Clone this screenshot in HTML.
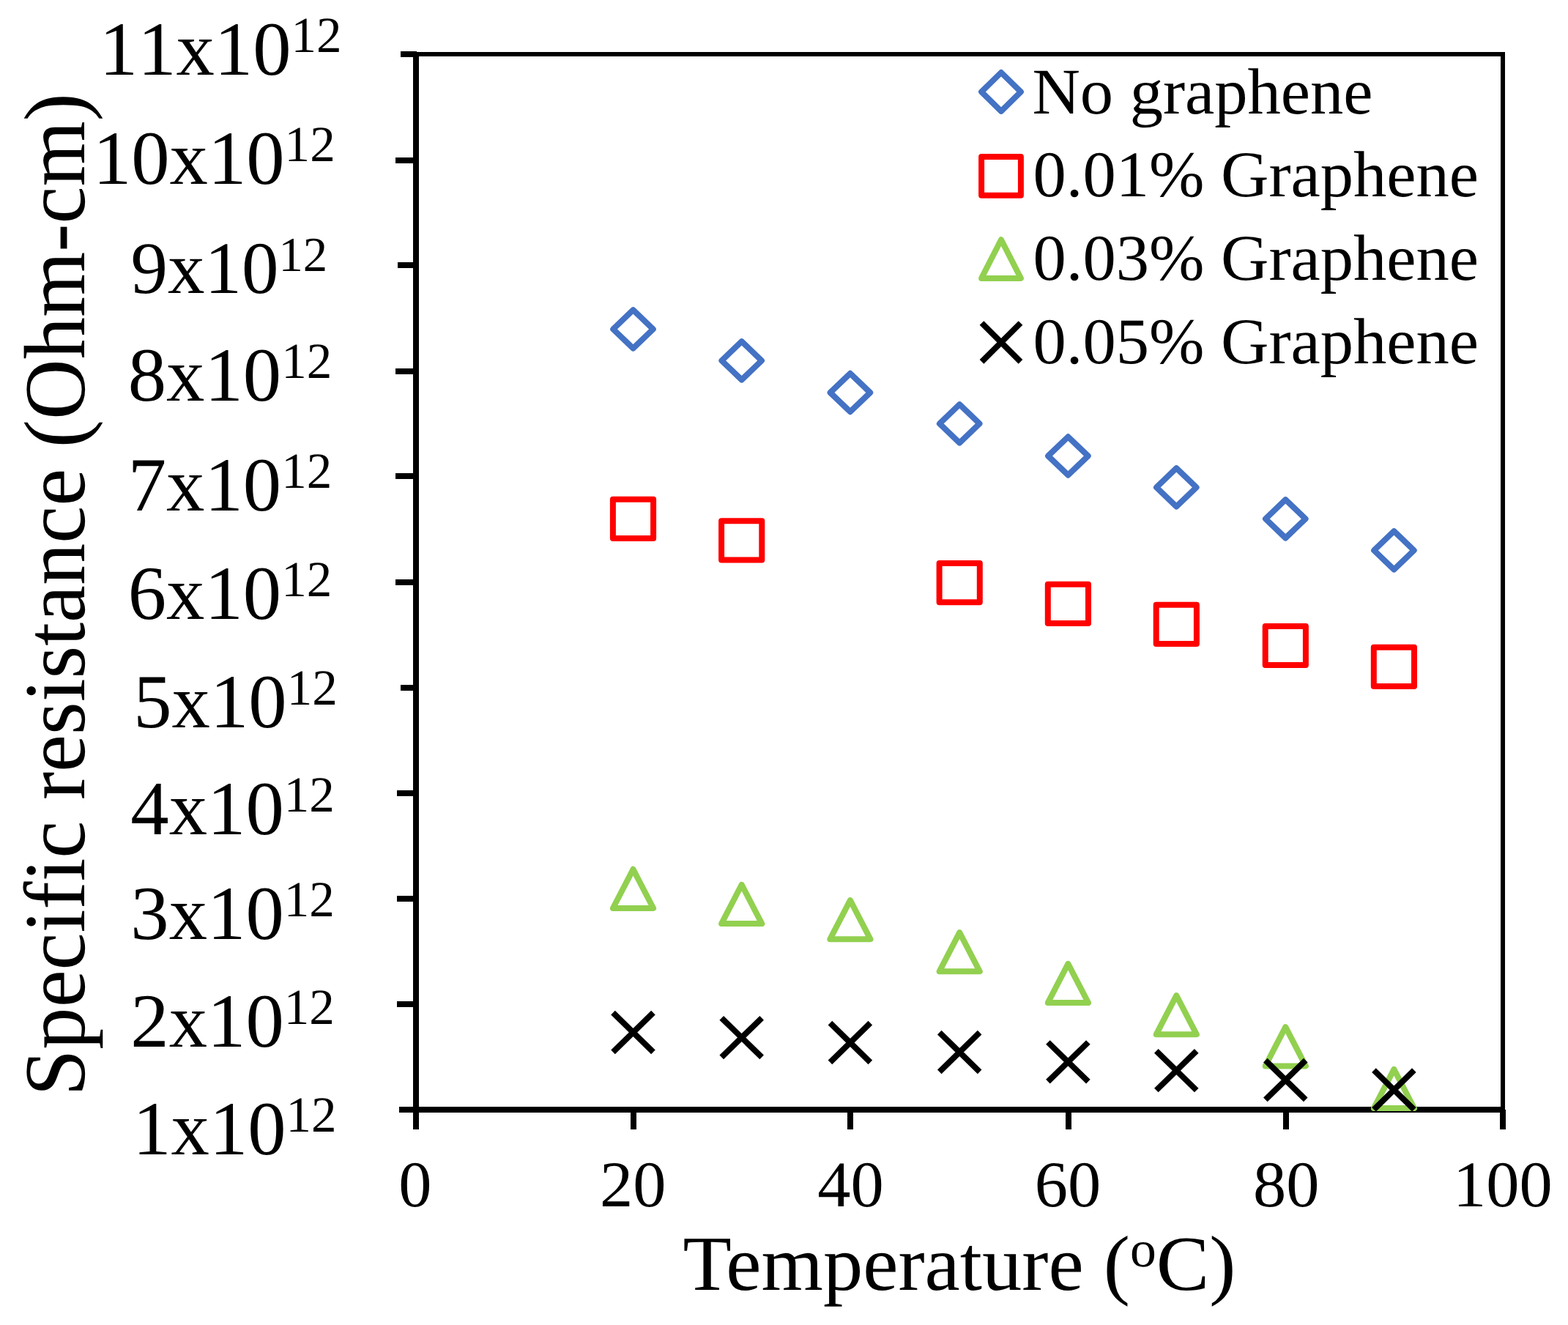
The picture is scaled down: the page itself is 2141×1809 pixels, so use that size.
<!DOCTYPE html>
<html lang="en">
<head>
<meta charset="utf-8">
<title>Specific resistance vs temperature</title>
<style>
html, body { margin: 0; padding: 0; background: #fff; }
html, body { width: 2141px; height: 1809px; }
svg { display: block; }
text { font-family: "Liberation Serif", "DejaVu Serif", serif; fill: #000; font-kerning: none; font-variant-ligatures: none; font-feature-settings: "kern" 0, "liga" 0, "clig" 0; text-rendering: geometricPrecision; }
text.k { font-kerning: normal; font-feature-settings: "kern" 1, "liga" 0, "clig" 0; }
</style>
</head>
<body>
<svg width="2141" height="1809" viewBox="0 0 2141 1809">
<rect width="2141" height="1809" fill="#fff"/>
<g id="frame" shape-rendering="crispEdges">
<rect x="564" y="71" width="8" height="1471" fill="#000"/>
<rect x="545" y="1511" width="1510" height="8" fill="#000"/>
<rect x="568" y="71" width="1487" height="6" fill="#000"/>
<rect x="2049" y="71" width="6" height="1444" fill="#000"/>
<rect x="547" y="70" width="22" height="8" fill="#000"/>
<rect x="540" y="215" width="29" height="8" fill="#000"/>
<rect x="543" y="358" width="26" height="8" fill="#000"/>
<rect x="540" y="503" width="29" height="8" fill="#000"/>
<rect x="540" y="646" width="29" height="8" fill="#000"/>
<rect x="540" y="791" width="29" height="8" fill="#000"/>
<rect x="547" y="935" width="22" height="8" fill="#000"/>
<rect x="542" y="1079" width="27" height="8" fill="#000"/>
<rect x="542" y="1223" width="27" height="8" fill="#000"/>
<rect x="542" y="1367" width="27" height="8" fill="#000"/>
<rect x="545" y="1511" width="24" height="8" fill="#000"/>
<rect x="564" y="1515" width="8" height="27" fill="#000"/>
<rect x="861" y="1515" width="8" height="27" fill="#000"/>
<rect x="1157" y="1515" width="8" height="27" fill="#000"/>
<rect x="1455" y="1515" width="8" height="27" fill="#000"/>
<rect x="1752" y="1515" width="8" height="27" fill="#000"/>
<rect x="2048" y="1515" width="8" height="27" fill="#000"/>
</g>
<g id="series">
<path d="M864.5 423.2L891.8 449.4L864.5 475.6L837.2 449.4Z" fill="none" stroke="#4472C4" stroke-width="8" stroke-linejoin="round"/>
<path d="M1012.7 466.1L1040 492.3L1012.7 518.5L985.4 492.3Z" fill="none" stroke="#4472C4" stroke-width="8" stroke-linejoin="round"/>
<path d="M1160.9 509.8L1188.2 536L1160.9 562.2L1133.6 536Z" fill="none" stroke="#4472C4" stroke-width="8" stroke-linejoin="round"/>
<path d="M1310.2 552.2L1337.5 578.4L1310.2 604.6L1282.9 578.4Z" fill="none" stroke="#4472C4" stroke-width="8" stroke-linejoin="round"/>
<path d="M1458.4 596.3L1485.7 622.5L1458.4 648.7L1431.1 622.5Z" fill="none" stroke="#4472C4" stroke-width="8" stroke-linejoin="round"/>
<path d="M1606.3 639.2L1633.6 665.4L1606.3 691.6L1579 665.4Z" fill="none" stroke="#4472C4" stroke-width="8" stroke-linejoin="round"/>
<path d="M1755.3 682.1L1782.6 708.3L1755.3 734.5L1728 708.3Z" fill="none" stroke="#4472C4" stroke-width="8" stroke-linejoin="round"/>
<path d="M1903.4 725.2L1930.7 751.4L1903.4 777.6L1876.1 751.4Z" fill="none" stroke="#4472C4" stroke-width="8" stroke-linejoin="round"/>
<path d="M836.9 681.8H892.1V735H836.9Z" fill="none" stroke="#FF0000" stroke-width="8" stroke-linejoin="round"/>
<path d="M985.1 711.3H1040.3V764.5H985.1Z" fill="none" stroke="#FF0000" stroke-width="8" stroke-linejoin="round"/>
<path d="M1282.6 769H1337.8V822.2H1282.6Z" fill="none" stroke="#FF0000" stroke-width="8" stroke-linejoin="round"/>
<path d="M1430.8 797.8H1486V851H1430.8Z" fill="none" stroke="#FF0000" stroke-width="8" stroke-linejoin="round"/>
<path d="M1578.7 825.8H1633.9V879H1578.7Z" fill="none" stroke="#FF0000" stroke-width="8" stroke-linejoin="round"/>
<path d="M1727.7 854.9H1782.9V908.1H1727.7Z" fill="none" stroke="#FF0000" stroke-width="8" stroke-linejoin="round"/>
<path d="M1875.8 883.8H1931V937H1875.8Z" fill="none" stroke="#FF0000" stroke-width="8" stroke-linejoin="round"/>
<path d="M864.5 1186.8L892.1 1240L836.9 1240Z" fill="none" stroke="#92D050" stroke-width="8" stroke-linejoin="round"/>
<path d="M1012.7 1207.9L1040.3 1261.1L985.1 1261.1Z" fill="none" stroke="#92D050" stroke-width="8" stroke-linejoin="round"/>
<path d="M1160.9 1229.1L1188.5 1282.3L1133.3 1282.3Z" fill="none" stroke="#92D050" stroke-width="8" stroke-linejoin="round"/>
<path d="M1310.2 1273.1L1337.8 1326.3L1282.6 1326.3Z" fill="none" stroke="#92D050" stroke-width="8" stroke-linejoin="round"/>
<path d="M1458.4 1315.9L1486 1369.1L1430.8 1369.1Z" fill="none" stroke="#92D050" stroke-width="8" stroke-linejoin="round"/>
<path d="M1606.3 1359.1L1633.9 1412.3L1578.7 1412.3Z" fill="none" stroke="#92D050" stroke-width="8" stroke-linejoin="round"/>
<path d="M1755.3 1402.2L1782.9 1455.4L1727.7 1455.4Z" fill="none" stroke="#92D050" stroke-width="8" stroke-linejoin="round"/>
<path d="M1903.4 1459.9L1931 1513.1L1875.8 1513.1Z" fill="none" stroke="#92D050" stroke-width="8" stroke-linejoin="round"/>
<path d="M837.05 1382.7L891.95 1436.3M891.95 1382.7L837.05 1436.3" fill="none" stroke="#000" stroke-width="8"/>
<path d="M985.25 1389.8L1040.15 1443.4M1040.15 1389.8L985.25 1443.4" fill="none" stroke="#000" stroke-width="8"/>
<path d="M1133.45 1396.7L1188.35 1450.3M1188.35 1396.7L1133.45 1450.3" fill="none" stroke="#000" stroke-width="8"/>
<path d="M1282.75 1409.7L1337.65 1463.3M1337.65 1409.7L1282.75 1463.3" fill="none" stroke="#000" stroke-width="8"/>
<path d="M1430.95 1423L1485.85 1476.6M1485.85 1423L1430.95 1476.6" fill="none" stroke="#000" stroke-width="8"/>
<path d="M1578.85 1434.9L1633.75 1488.5M1633.75 1434.9L1578.85 1488.5" fill="none" stroke="#000" stroke-width="8"/>
<path d="M1727.85 1447.7L1782.75 1501.3M1782.75 1447.7L1727.85 1501.3" fill="none" stroke="#000" stroke-width="8"/>
<path d="M1875.95 1461.2L1930.85 1514.8M1930.85 1461.2L1875.95 1514.8" fill="none" stroke="#000" stroke-width="8"/>
</g>
<g id="legend">
<path d="M1367 99L1393.9 125.4L1367 151.8L1340.1 125.4Z" fill="none" stroke="#4472C4" stroke-width="8" stroke-linejoin="round"/>
<path d="M1340.1 214.1H1393.9V266.7H1340.1Z" fill="none" stroke="#FF0000" stroke-width="8" stroke-linejoin="round"/>
<path d="M1367 327.3L1393.9 379.9L1340.1 379.9Z" fill="none" stroke="#92D050" stroke-width="8" stroke-linejoin="round"/>
<path d="M1340.5 441L1393.5 493.8M1393.5 441L1340.5 493.8" fill="none" stroke="#000" stroke-width="8"/>
<text transform="translate(1409.4 154.5) scale(1.0172 1)" font-size="89">No graphene</text>
<text transform="translate(1410.6 268.2) scale(1.0172 1)" font-size="89">0.01% Graphene</text>
<text transform="translate(1410.6 382.4) scale(1.0172 1)" font-size="89">0.03% Graphene</text>
<text transform="translate(1410.6 496.1) scale(1.0172 1)" font-size="89">0.05% Graphene</text>
</g>
<g id="ylabels">
<text transform="translate(135.8 102.3) scale(1.0 1)" font-size="104.7">11x10<tspan font-size="69.1" dy="-31.5">12</tspan></text>
<text transform="translate(126.9 251.2) scale(1.0 1)" font-size="104.7">10x10<tspan font-size="69.1" dy="-31.5">12</tspan></text>
<text transform="translate(178.5 400.1) scale(1.0 1)" font-size="101">9x10<tspan font-size="66.7" dy="-30.4">12</tspan></text>
<text transform="translate(174.75 547.4) scale(1.0 1)" font-size="104.7">8x10<tspan font-size="69.1" dy="-31.5">12</tspan></text>
<text transform="translate(174.75 697.4) scale(1.0 1)" font-size="104.7">7x10<tspan font-size="69.1" dy="-31.5">12</tspan></text>
<text transform="translate(174.75 845.4) scale(1.0 1)" font-size="104.7">6x10<tspan font-size="69.1" dy="-31.5">12</tspan></text>
<text transform="translate(182.25 993.4) scale(1.0 1)" font-size="104.7">5x10<tspan font-size="69.1" dy="-31.5">12</tspan></text>
<text transform="translate(178.35 1139.1) scale(1.0 1)" font-size="104.7">4x10<tspan font-size="69.1" dy="-31.5">12</tspan></text>
<text transform="translate(178.35 1282.1) scale(1.0 1)" font-size="104.7">3x10<tspan font-size="69.1" dy="-31.5">12</tspan></text>
<text transform="translate(178.35 1429.1) scale(1.0 1)" font-size="104.7">2x10<tspan font-size="69.1" dy="-31.5">12</tspan></text>
<text transform="translate(181.2 1576.1) scale(1.0 1)" font-size="104.7">1x10<tspan font-size="69.1" dy="-31.5">12</tspan></text>
</g>
<g id="xlabels">
<text transform="translate(566.8 1647.2) scale(1.017 1)" font-size="89.0" text-anchor="middle">0</text>
<text transform="translate(864.3 1647.2) scale(1.017 1)" font-size="89.0" text-anchor="middle">20</text>
<text transform="translate(1161.4 1647.2) scale(1.017 1)" font-size="89.0" text-anchor="middle">40</text>
<text transform="translate(1458 1647.2) scale(1.017 1)" font-size="89.0" text-anchor="middle">60</text>
<text transform="translate(1756.3 1647.2) scale(1.017 1)" font-size="89.0" text-anchor="middle">80</text>
<text transform="translate(2051.8 1647.2) scale(1.017 1)" font-size="89.0" text-anchor="middle">100</text>
</g>
<g id="titles">
<text class="k" transform="translate(932.5 1761) scale(1.0197 1)" font-size="106.5">Temperature (<tspan font-size="70.3" dy="-31.9">o</tspan><tspan dy="31.9">C)</tspan></text>
<text transform="translate(114.7 1496.5) rotate(-90) scale(1 1.035)" font-size="114.7">Specific resistance (Ohm-cm)</text>
</g>
</svg>
</body>
</html>
